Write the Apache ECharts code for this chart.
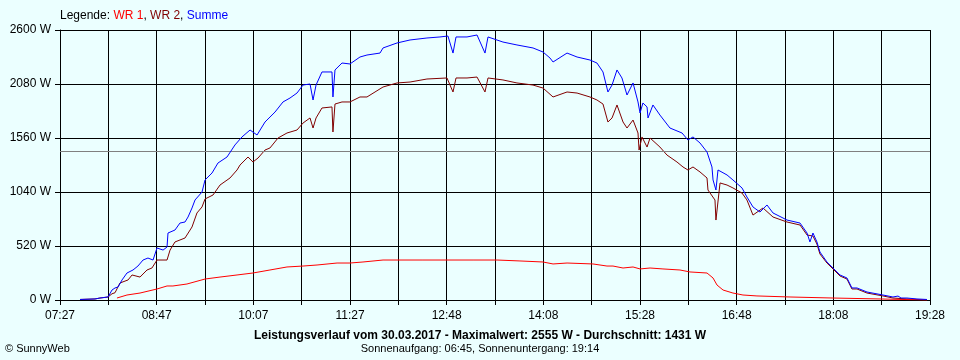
<!DOCTYPE html>
<html><head><meta charset="utf-8">
<script src="https://cdn.jsdelivr.net/npm/echarts@6/dist/echarts.min.js"></script>
<style>html,body{margin:0;padding:0;background:#ebffff;}#c{width:960px;height:360px;}</style>
</head><body><div id="c"></div>
<script>
// x values: minutes after 07:27
const xTickLabels = ['07:27','08:47','10:07','11:27','12:48','14:08','15:28','16:48','18:08','19:28'];
const yMax = 2600, yStep = 520;
const averageW = 1431;
const seriesNames = ['WR 1', 'WR 2', 'Summe'];

const summeT = [16.6,29,33.1,39.8,41.4,43.1,45.6,48.1,51.4,55.5,60.5,64.6,68.8,72.9,77.1,80.4,85.4,88.7,89.5,95.3,99.4,103.6,106.1,109.4,111.9,117.7,120.2,126,130.9,138.4,145,150.8,157.5,163.3,169.9,178.2,184.8,190.6,196.4,201.4,207.2,209.7,212.2,217.1,225.4,226.2,227.9,233.7,240.3,248.6,254.4,265.2,267.7,279.3,290.1,304.1,314.9,321.5,325.7,328.2,337.3,345.6,352.2,354.7,367.1,378.7,392,400.3,406.1,408.6,420.2,428.5,439.2,445,450,454.1,457.5,461.6,465.7,469.9,474.9,479,480.7,483.1,486.5,487.3,491.4,497.2,505.5,515.5,520.4,524.6,530.4,536.2,540.3,541.2,543.6,545.3,552.8,557.7,565.2,569.3,574.3,580.1,585.9,590.9,602.5,613.3,619.1,621.5,624,627.3,629.8,635.6,640.6,646.4,652.2,656.3,660.5,668.8,682,690.3,694.5,697,701.9,710.2,718.5];
const summeW = [5,10,19,29,29,96,116,125,193,260,289,327,385,404,385,501,481,510,645,674,741,751,799,886,963,1040,1156,1223,1319,1377,1493,1570,1637,1589,1714,1810,1907,1945,1993,2070,2080,1926,2070,2196,2196,1955,2215,2282,2273,2340,2359,2378,2427,2475,2504,2523,2533,2542,2378,2533,2533,2552,2378,2533,2484,2456,2427,2388,2330,2292,2378,2340,2311,2282,2196,2003,2070,2215,2138,1974,2090,1907,1801,1897,1859,1753,1878,1781,1656,1608,1541,1570,1512,1425,1281,1156,1059,1252,1204,1156,1079,992,896,847,915,838,770,741,645,559,645,559,462,366,308,241,212,116,116,77,48,29,38,19,19,10,5];

const wr2T = [16.6,29,33.1,39.8,41.4,43.1,45.6,47.2,49.7,56.4,59.7,66.3,72.1,76.2,80.4,88.7,91.2,95.3,103.6,109.4,113.5,117.7,120.2,126.8,132.6,140.9,146.7,149.2,155.8,159.9,164.1,169.9,174,180.7,188.1,196.4,201.4,207.2,209.7,212.2,217.1,225.4,226.2,227.9,233.7,240.3,248.6,254.4,267.7,279.3,290.1,304.1,320.7,325.7,328.2,337.3,345.6,352.2,354.7,367.1,378.7,392,400.3,408.6,420.2,428.5,439.2,445,450,454.1,457.5,461.6,466.6,469.9,474.9,479,479.9,482.3,486.5,489,497.2,503,511.3,516.3,520.4,524.6,530.4,536.2,537,542.8,543.6,547,552.8,557.7,565.2,569.3,574.3,582.6,590.9,602.5,613.3,619.1,624,627.3,629.8,635.6,640.6,646.4,652.2,656.3,660.5,668.8,682,690.3,701.9,718.5];
const wr2W = [5,10,19,29,29,60,70,77,164,193,241,221,289,308,385,385,481,559,597,703,838,896,973,1011,1107,1175,1252,1300,1377,1329,1367,1444,1464,1560,1608,1637,1704,1753,1656,1753,1849,1859,1618,1887,1907,1907,1955,1955,2051,2090,2099,2128,2138,2003,2138,2138,2147,2003,2138,2119,2090,2070,2041,1955,2003,1993,1955,1926,1887,1714,1753,1878,1714,1656,1733,1608,1444,1570,1473,1560,1473,1396,1329,1281,1252,1281,1233,1175,1059,963,770,1127,1107,1079,1030,963,818,886,799,751,722,626,616,539,443,356,299,231,202,106,106,67,39,19,10,0];

const wr1T = [47.2,48.1,55.5,66.3,80.4,88.7,93.6,105.2,120.2,132.6,146.7,159.9,174,188.1,201.4,213,229.6,240.3,251.1,267.7,300.8,342.3,362.2,381.2,400.3,408.6,420.2,441.7,453.3,458.3,466.6,474.9,480.7,489,499.7,513.8,522.1,536.2,541.2,544.5,549.5,557.7,566,577.6,605,640.6,679.6,718.5];
const wr1W = [19,29,48,67,106,135,135,154,202,221,241,260,289,318,327,337,356,356,366,385,385,385,385,376,366,347,356,347,327,327,308,318,299,308,299,289,270,260,212,144,96,67,48,39,29,19,10,0];

const xMaxMin = 721, xStep = 721 / 18;
const zip = (t, w) => t.map((v, i) => [v, w[i]]);

const chart = echarts.init(document.getElementById('c'), null, {renderer: 'canvas'});
const FONT = 'Liberation Sans, Arial, sans-serif';
chart.setOption({
  backgroundColor: '#ebffff',
  animation: false,
  grid: {left: 60, top: 30, width: 870, height: 270, containLabel: false},
  graphic: [
    {type: 'text', left: 60, top: 10, style: {
      text: '{k|Legende: }{a|' + seriesNames[0] + '}{k|, }{b|' + seriesNames[1] + '}{k|, }{c|' + seriesNames[2] + '}',
      rich: {
        k: {fill: '#000', fontSize: 12, fontFamily: FONT},
        a: {fill: '#ff0000', fontSize: 12, fontFamily: FONT},
        b: {fill: '#800000', fontSize: 12, fontFamily: FONT},
        c: {fill: '#0000ff', fontSize: 12, fontFamily: FONT}
      }}},
    {type: 'text', left: 'center', top: 330, style: {
      text: 'Leistungsverlauf vom 30.03.2017 - Maximalwert: 2555 W - Durchschnitt: ' + averageW + ' W',
      fill: '#000', fontSize: 12, fontWeight: 'bold', fontFamily: FONT}},
    {type: 'text', left: 'center', top: 343, style: {
      text: 'Sonnenaufgang: 06:45, Sonnenuntergang: 19:14',
      fill: '#000', fontSize: 11, fontFamily: FONT}},
    {type: 'text', left: 5, top: 343, style: {
      text: '© SunnyWeb', fill: '#000', fontSize: 11, fontFamily: FONT}}
  ],
  xAxis: {
    type: 'value', min: 0, max: xMaxMin, interval: xStep,
    axisLine: {show: true, lineStyle: {color: '#000', width: 1}},
    axisTick: {show: true, length: 5, lineStyle: {color: '#000'}},
    splitLine: {show: true, lineStyle: {color: '#000', width: 1}},
    axisLabel: {
      color: '#000', fontSize: 12, fontFamily: FONT, margin: 10, showMinLabel: true, showMaxLabel: true,
      formatter: v => {
        const i = Math.round(v / xStep);
        return i % 2 === 0 ? xTickLabels[i / 2] : '';
      }
    }
  },
  yAxis: {
    type: 'value', min: 0, max: yMax, interval: yStep,
    axisLine: {show: true, lineStyle: {color: '#000', width: 1}},
    axisTick: {show: true, length: 5, lineStyle: {color: '#000'}},
    splitLine: {show: true, lineStyle: {color: '#000', width: 1}},
    axisLabel: {color: '#000', fontSize: 12, fontFamily: FONT, margin: 9, formatter: v => v + ' W'}
  },
  series: [
    {name: seriesNames[1], type: 'line', data: zip(wr2T, wr2W), showSymbol: false,
      lineStyle: {color: '#800000', width: 1}, z: 3},
    {name: seriesNames[0], type: 'line', data: zip(wr1T, wr1W), showSymbol: false,
      lineStyle: {color: '#ff0000', width: 1}, z: 4,
      markLine: {silent: true, symbol: 'none', label: {show: false},
        lineStyle: {color: '#808080', width: 1, type: 'solid'},
        data: [{yAxis: averageW}]}},
    {name: seriesNames[2], type: 'line', data: zip(summeT, summeW), showSymbol: false,
      lineStyle: {color: '#0000ff', width: 1}, z: 5}
  ]
});
</script></body></html>
